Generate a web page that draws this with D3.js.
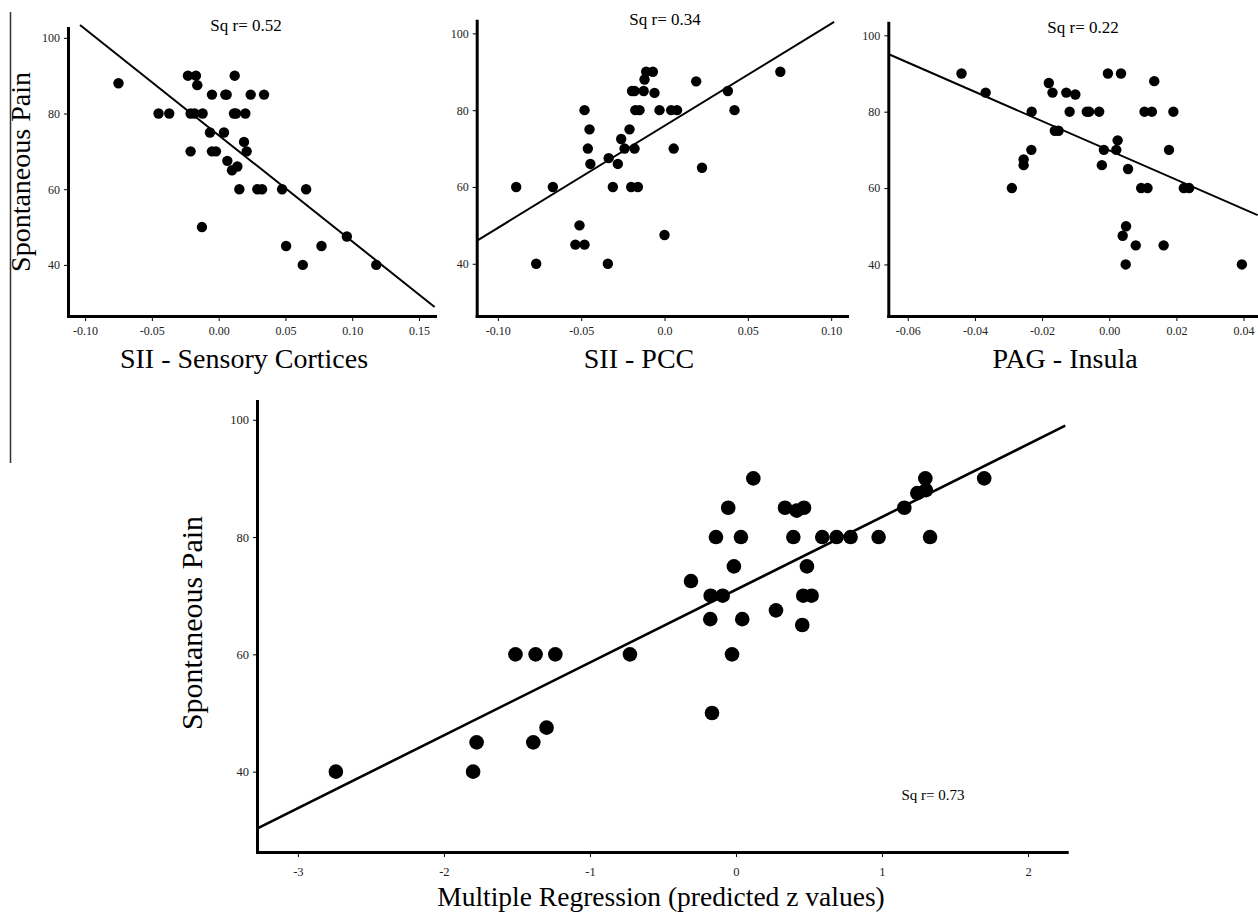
<!DOCTYPE html>
<html>
<head>
<meta charset="utf-8">
<script src="https://cdn.jsdelivr.net/npm/d3@7"></script>
<style>
  body { margin: 0; background: #fff; }
  svg { display: block; font-family: "Liberation Serif", "Times New Roman", serif; }
</style>
</head>
<body>
<svg width="1258" height="914"></svg>
<script>
// SII - Sensory Cortices
var sensoryX = [-0.075, -0.045, -0.037, -0.023, -0.017, -0.016, -0.021, -0.018, -0.012, -0.021,
  -0.0125, -0.005, -0.0065, -0.005, -0.002, 0.005, 0.006, 0.004, 0.0065, 0.010,
  0.014, 0.012, 0.0115, 0.013, 0.020, 0.019, 0.021, 0.024, 0.034, 0.0155,
  0.029, 0.0325, 0.0475, 0.0655, 0.0505, 0.063, 0.077, 0.096, 0.118];
var sensoryPain = [88, 80, 80, 90, 90, 87.5, 80, 80, 80, 70,
  50, 85, 75, 70, 70, 85, 85, 75, 67.5, 65,
  66, 90, 80, 80, 80, 72.5, 70, 85, 85, 60,
  60, 60, 60, 60, 45, 40, 45, 47.5, 40];
var sensoryFit = [[-0.1038, 103.4], [0.1617, 28.9]];
var sensoryTicks = [-0.10, -0.05, 0.00, 0.05, 0.10, 0.15];
var sensoryTickLabels = ["-0.10", "-0.05", "0.00", "0.05", "0.10", "0.15"];

// SII - PCC
var pccX = [-0.089, -0.067, -0.077, -0.051, -0.0535, -0.048, -0.048, -0.045, -0.046, -0.0445,
  -0.034, -0.0335, -0.031, -0.028, -0.026, -0.024, -0.021, -0.0195, -0.018, -0.0175,
  -0.015, -0.018, -0.020, -0.016, -0.012, -0.0125, -0.011, -0.007, -0.006, -0.003,
  0.000, 0.004, 0.0075, 0.0055, 0.019, 0.0225, 0.038, 0.042, 0.0695];
var pccPain = [60, 60, 40, 50, 45, 45, 80, 75, 70, 66,
  40, 67.5, 60, 66, 72.5, 70, 75, 85, 85, 80,
  80, 70, 60, 60, 88, 85, 90, 90, 84.5, 80,
  47.5, 80, 80, 70, 87.5, 65, 85, 80, 90];
var pccFit = [[-0.1122, 46.1], [0.1018, 103.0]];
var pccTicks = [-0.10, -0.05, 0.00, 0.05, 0.10];
var pccTickLabels = ["-0.10", "-0.05", "0.0", "0.05", "0.10"];

// PAG - Insula
var insulaX = [-0.044, -0.0368, -0.029, -0.0255, -0.0255, -0.0231, -0.0232, -0.018, -0.0169, -0.0162,
  -0.0151, -0.0128, -0.0101, -0.0118, -0.0067, -0.006, -0.003, -0.0022, -0.0016, -0.0004,
  0.0035, 0.0025, 0.0021, 0.0056, 0.004, 0.005, 0.0049, 0.0079, 0.0095, 0.0114,
  0.0105, 0.0127, 0.0134, 0.0162, 0.0178, 0.0191, 0.0222, 0.0238, 0.0395];
var insulaPain = [90, 85, 60, 67.5, 66, 80, 70, 87.5, 85, 75,
  75, 85, 84.5, 80, 80, 80, 80, 66, 70, 90,
  90, 72.5, 70, 65, 47.5, 50, 40, 45, 60, 60,
  80, 80, 88, 45, 70, 80, 60, 60, 40];
var insulaFit = [[-0.0658, 95.1], [0.0442, 52.9]];
var insulaTicks = [-0.06, -0.04, -0.02, 0.00, 0.02, 0.04];
var insulaTickLabels = ["-0.06", "-0.04", "-0.02", "0.00", "0.02", "0.04"];

// Multiple regression (predicted z values)
var predZ = [-2.74, -1.80, -1.776, -1.51, -1.372, -1.237, -1.388, -1.297, -0.726, 0.119,
  -0.053, -0.137, 0.034, -0.014, -0.308, -0.173, -0.091, -0.176, 0.043, -0.027,
  -0.164, 0.274, 0.454, 0.486, 0.461, 0.518, 0.336, 0.416, 0.466, 0.393,
  0.591, 0.689, 0.785, 0.977, 1.329, 1.153, 1.242, 1.297, 1.301, 1.70];
var predPain = [40, 40, 45, 60, 60, 60, 45, 47.5, 60, 90,
  85, 80, 80, 75, 72.5, 70, 70, 66, 66, 60,
  50, 67.5, 65, 75, 70, 70, 85, 84.5, 85, 80,
  80, 80, 80, 80, 80, 85, 87.5, 90, 88, 90];
var predFit = [[-3.28, 30.3], [2.255, 99.0]];
var predTicks = [-3, -2, -1, 0, 1, 2];
var predTickLabels = ["-3", "-2", "-1", "0", "1", "2"];

var painTicks = [40, 60, 80, 100];
var sqR = ["0.52", "0.34", "0.22", "0.73"];

var svg = d3.select("svg");

// thin frame line on the left edge
svg.append("line")
  .attr("x1", 10.5).attr("x2", 10.5)
  .attr("y1", 12).attr("y2", 463)
  .attr("stroke", "#333").attr("stroke-width", 1.5);

function panel(o) {
  var g = svg.append("g");
  var x = d3.scaleLinear().domain(o.xDomain).range([o.left, o.right]);
  var y = d3.scaleLinear().domain(o.yDomain).range([o.bottom, o.top]);

  var xAxis = d3.axisBottom(x)
    .tickValues(o.ticks)
    .tickFormat(function(d, i) { return o.tickLabels[i]; })
    .tickSize(5).tickSizeOuter(0).tickPadding(o.xPad);
  var yAxis = d3.axisLeft(y)
    .tickValues(painTicks)
    .tickSize(4).tickSizeOuter(0).tickPadding(4);

  var gx = g.append("g").attr("transform", "translate(0," + o.bottom + ")").call(xAxis);
  var gy = g.append("g").attr("transform", "translate(" + o.left + ",0)").call(yAxis);
  [gx, gy].forEach(function(a) {
    a.attr("font-family", null).attr("font-size", o.tickFont);
    a.select(".domain").attr("stroke-width", 3).attr("stroke-linecap", "square");
    a.selectAll(".tick line").attr("stroke-width", 1);
    a.selectAll(".tick text").attr("fill", "#222");
  });

  // regression line
  g.append("line")
    .attr("x1", x(o.fit[0][0])).attr("y1", y(o.fit[0][1]))
    .attr("x2", x(o.fit[1][0])).attr("y2", y(o.fit[1][1]))
    .attr("stroke", "#000").attr("stroke-width", o.lineW);

  g.append("g").selectAll("circle")
    .data(o.xs)
    .enter().append("circle")
    .attr("cx", function(d) { return x(d); })
    .attr("cy", function(d, i) { return y(o.ys[i]); })
    .attr("r", o.r)
    .attr("fill", "#000");

  g.append("text")
    .attr("x", o.titleX).attr("y", o.titleY)
    .attr("text-anchor", "middle")
    .attr("font-size", o.titleFont)
    .text("Sq r= " + o.sq);

  g.append("text")
    .attr("x", o.labelX).attr("y", o.labelY)
    .attr("text-anchor", "middle")
    .attr("font-size", o.labelFont)
    .text(o.label);
}

panel({
  xs: sensoryX, ys: sensoryPain, fit: sensoryFit, ticks: sensoryTicks, tickLabels: sensoryTickLabels,
  xDomain: [-0.1128, 0.162], yDomain: [26.5, 102.6],
  left: 68, right: 435, top: 28, bottom: 316,
  r: 5.2, lineW: 2, tickFont: 12, xPad: 5,
  sq: sqR[0], titleX: 246, titleY: 31, titleFont: 17,
  label: "SII - Sensory Cortices", labelX: 244, labelY: 368, labelFont: 28
});

panel({
  xs: pccX, ys: pccPain, fit: pccFit, ticks: pccTicks, tickLabels: pccTickLabels,
  xDomain: [-0.1127, 0.1095], yDomain: [26.4, 103.3],
  left: 476.7, right: 847, top: 20.7, bottom: 316,
  r: 5.2, lineW: 2, tickFont: 12, xPad: 5,
  sq: sqR[1], titleX: 665, titleY: 25, titleFont: 17,
  label: "SII - PCC", labelX: 639, labelY: 368, labelFont: 28
});

panel({
  xs: insulaX, ys: insulaPain, fit: insulaFit, ticks: insulaTicks, tickLabels: insulaTickLabels,
  xDomain: [-0.0658, 0.0443], yDomain: [26.5, 103.3],
  left: 888.3, right: 1258, top: 22.7, bottom: 316,
  r: 5.2, lineW: 2, tickFont: 12, xPad: 5,
  sq: sqR[2], titleX: 1083, titleY: 33, titleFont: 17,
  label: "PAG - Insula", labelX: 1065, labelY: 368, labelFont: 28
});

panel({
  xs: predZ, ys: predPain, fit: predFit, ticks: predTicks, tickLabels: predTickLabels,
  xDomain: [-3.28, 2.265], yDomain: [26.3, 103.2],
  left: 257, right: 1066.7, top: 401, bottom: 852,
  r: 7.3, lineW: 2.6, tickFont: 12.5, xPad: 10,
  sq: sqR[3], titleX: 933, titleY: 800, titleFont: 15,
  label: "Multiple Regression (predicted z values)", labelX: 661, labelY: 906, labelFont: 27.5
});

// y axis titles
svg.append("text")
  .attr("transform", "translate(30,172) rotate(-90)")
  .attr("text-anchor", "middle")
  .attr("font-size", 28)
  .text("Spontaneous Pain");

svg.append("text")
  .attr("transform", "translate(202,623) rotate(-90)")
  .attr("text-anchor", "middle")
  .attr("font-size", 30)
  .text("Spontaneous Pain");
</script>
</body>
</html>
